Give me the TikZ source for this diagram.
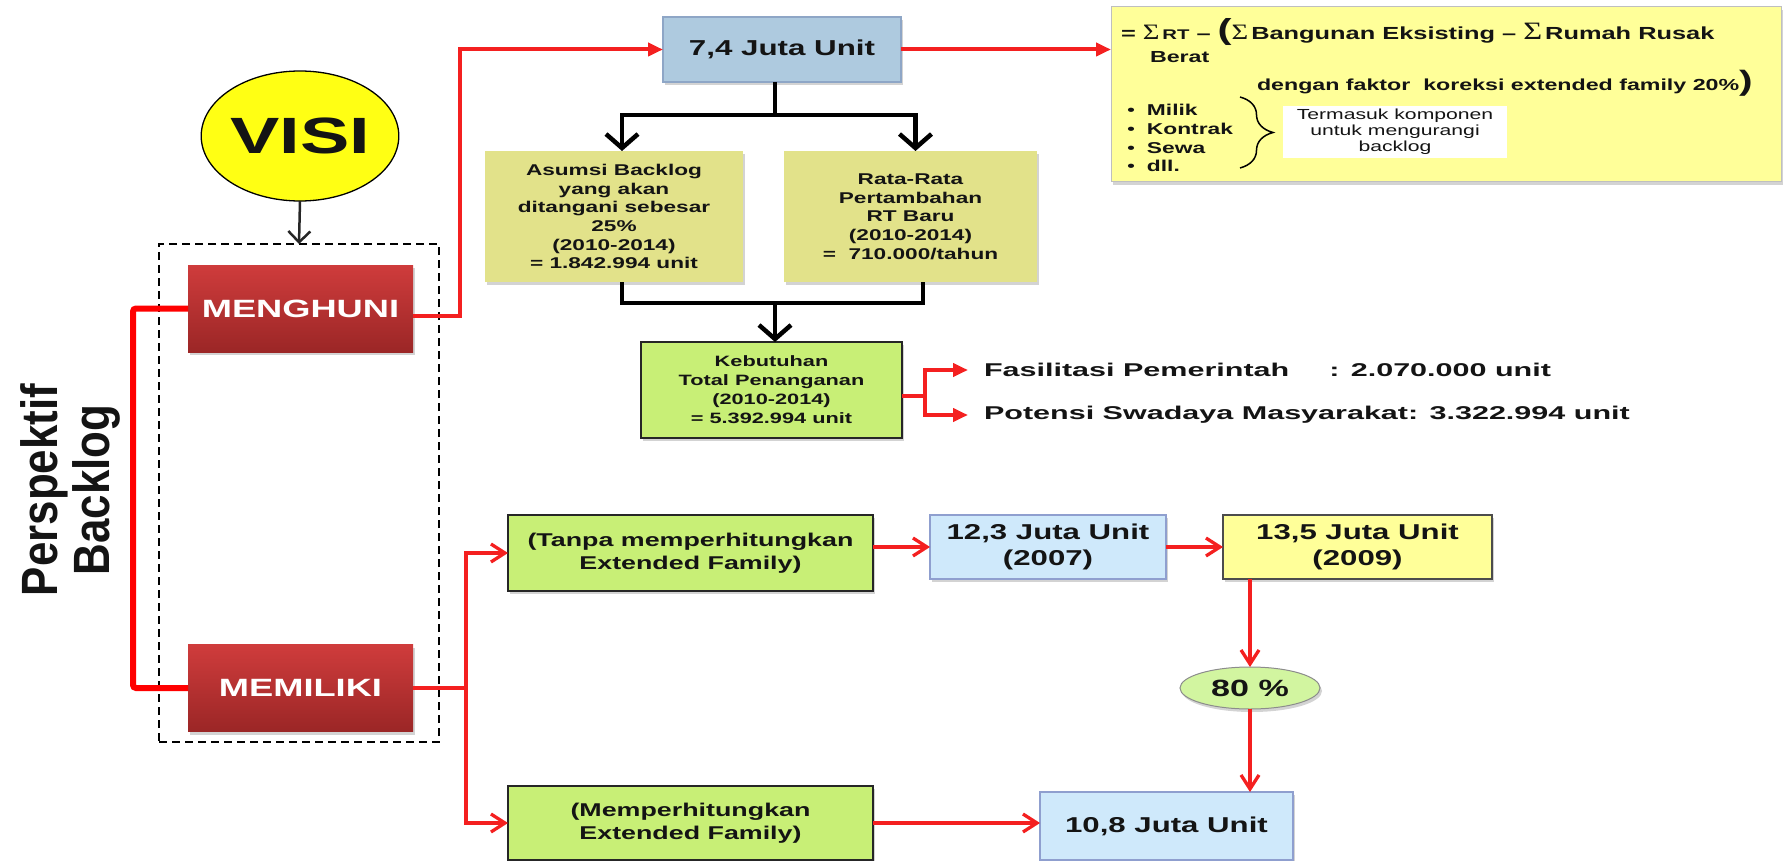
\documentclass[tikz,border=0pt]{standalone}
\usepackage{fontspec}
\setmainfont{Liberation Sans}
\newfontfamily\wf{Liberation Sans}[FakeStretch=1.45]
\newfontfamily\xwf{Liberation Sans}[FakeStretch=1.65]
\newfontfamily\nf{Liberation Sans}[FakeStretch=0.86]
\newfontfamily\sgf{Liberation Serif}[FakeStretch=1.3]
\usetikzlibrary{arrows.meta,shapes.geometric,shadows,calc,decorations.pathreplacing}

\newcommand{\setfs}[2]{\fontsize{#1}{#2}\selectfont}

\definecolor{redtop}{HTML}{CF3C3C}
\definecolor{redbot}{HTML}{9B2626}
\definecolor{khaki}{HTML}{E2E28A}
\definecolor{lime}{HTML}{C8EF76}
\definecolor{steel}{HTML}{AECADF}
\definecolor{steeldraw}{HTML}{8EA6C6}
\definecolor{skyfill}{HTML}{CFE9FB}
\definecolor{skydraw}{HTML}{8F9FCF}
\definecolor{paleyel}{HTML}{FFFF99}
\definecolor{mint}{HTML}{D2F5A0}
\definecolor{visiyel}{HTML}{FFFF14}
\definecolor{linered}{HTML}{F42020}
\definecolor{ink}{HTML}{141414}

\begin{document}
\begin{tikzpicture}[x=1pt,y=-1pt,
  every node/.style={inner sep=0pt,outer sep=0pt,text=ink},
  sh/.style={drop shadow={shadow xshift=2pt,shadow yshift=-3pt,opacity=0.35}},
  rbox/.style={rectangle,top color=redtop,bottom color=redbot,text=white,
    minimum width=225pt,minimum height=87pt,font={\wf\bfseries\setfs{25}{30}},sh},
  frame/.style={rectangle,draw=black,line width=2.5pt,dash pattern=on 8pt off 5pt},
  khakibox/.style={rectangle,fill=khaki,minimum height=131pt,align=center,
    font={\wf\bfseries\setfs{15.6}{18.7}},sh},
  limebox/.style={rectangle,fill=lime,draw=black!85,line width=1.5pt,align=center,sh},
  steelbox/.style={rectangle,fill=steel,draw=steeldraw,line width=1.2pt,align=center,sh},
  skybox/.style={rectangle,fill=skyfill,draw=skydraw,line width=1.2pt,align=center,
    font={\wf\bfseries\setfs{21.5}{25.5}},sh},
  yelbox/.style={rectangle,fill=paleyel,draw=black!70,line width=1.2pt,align=center,
    font={\wf\bfseries\setfs{21.5}{26}},sh},
  blk/.style={draw=black,line width=4.5pt},
  blkarrow/.style={blk,-{Straight Barb[length=14pt,width=32pt]}},
  redthick/.style={draw=red,line width=6pt},
  redmed/.style={draw=linered,line width=4pt},
  redthin/.style={draw=linered,line width=3.3pt},
  redbarb/.style={redthin,-{Straight Barb[length=14pt,width=18pt]}},
  redtri/.style={redmed,-{Triangle[length=15pt,width=13pt]}},
  ftext/.style={font={\wf\bfseries\setfs{16}{20}}},
]
\useasboundingbox (0,0) rectangle (1785,861);

% ---------- left column ----------
\node[frame,minimum width=280pt,minimum height=498pt] (grp) at (299,493) {};
\node[ellipse,draw=black,line width=1.3pt,fill=visiyel,minimum width=197pt,
  minimum height=130pt,font={\wf\bfseries\setfs{51}{51}}] (visi) at (300,136) {VISI};
\node[rbox] (menghuni) at (300.5,308.5) {MENGHUNI};
\node[rbox] (memiliki) at (300.5,688) {MEMILIKI};
\node[rotate=90,align=center,font={\nf\bfseries\setfs{51}{52}}] (persp) at (70,490)
  {Perspektif\\Backlog};

% ---------- upper chain ----------
\node[steelbox,minimum width=238pt,minimum height=65pt,
  font={\wf\bfseries\setfs{21.6}{26}}] (j74) at (782,49.5) {7,4 Juta Unit};
\node[khakibox,minimum width=258pt] (asumsi) at (614,216.5)
  {Asumsi Backlog\\yang akan\\ditangani sebesar\\25\%\\(2010-2014)\\= 1.842.994 unit};
\node[khakibox,minimum width=253pt] (rata) at (910.5,216.5)
  {Rata-Rata\\Pertambahan\\RT Baru\\(2010-2014)\\=\ \ 710.000/tahun};
\node[limebox,minimum width=261pt,minimum height=96pt,
  font={\wf\bfseries\setfs{15}{19}}] (keb) at (771.5,390)
  {Kebutuhan\\Total Penanganan\\(2010-2014)\\= 5.392.994 unit};
\node[anchor=west,font={\xwf\bfseries\setfs{18.5}{22}}] (fasil) at (984,370)
  {Fasilitasi Pemerintah\hspace{40pt}: 2.070.000 unit};
\node[anchor=west,font={\xwf\bfseries\setfs{18.5}{22}}] (potensi) at (984,415)
  {Potensi Swadaya Masyarakat: 3.322.994 unit};

% ---------- formula panel ----------
\node[rectangle,fill=paleyel,draw=black!25,line width=1pt,minimum width=670pt,
  minimum height=175pt,sh] (formula) at (1446,94.5) {};
\node[anchor=base west,font={\wf\bfseries\setfs{17.5}{20}}] (f1) at (1121,40)
  {=\ {\sgf\mdseries\setfs{22}{22}Σ}\,{\setfs{14}{14}RT} – {\setfs{29}{29}(}{\sgf\mdseries\setfs{22}{22}Σ}\,Bangunan Eksisting – {\sgf\mdseries\setfs{25}{25}Σ}\,Rumah Rusak};
\node[ftext,anchor=base west] (f2) at (1150,63) {Berat};
\node[ftext,anchor=base west] (f3) at (1257,91)
  {dengan faktor\ \ koreksi extended family 20\%{\setfs{28}{28})}};
\node[anchor=west,align=left,font={\wf\bfseries\setfs{15.7}{18.8}}] (blist) at (1127,138)
  {{\mdseries •}\hspace{12pt}Milik\\{\mdseries •}\hspace{12pt}Kontrak\\{\mdseries •}\hspace{12pt}Sewa\\{\mdseries •}\hspace{12pt}dll.};
\draw[line width=1.5pt,decorate,decoration={brace,amplitude=33pt,aspect=0.5}]
  (1240,97) -- (1240,168);
\node[fill=white,minimum width=224pt,minimum height=52pt,align=center,
  font={\wf\setfs{14.6}{16}}] (termasuk) at (1395,132)
  {Termasuk komponen\\untuk mengurangi\\backlog};

% ---------- lower chain ----------
\node[limebox,minimum width=365pt,minimum height=76pt,
  font={\wf\bfseries\setfs{18.5}{23}}] (tanpa) at (690.5,553)
  {(Tanpa memperhitungkan\\Extended Family)};
\node[limebox,minimum width=365pt,minimum height=74pt,
  font={\wf\bfseries\setfs{18.5}{23}}] (memper) at (690.5,823)
  {(Memperhitungkan\\Extended Family)};
\node[skybox,minimum width=236pt,minimum height=64pt] (j123) at (1048,547)
  {12,3 Juta Unit\\(2007)};
\node[yelbox,minimum width=269pt,minimum height=64pt] (j135) at (1357.5,547)
  {13,5 Juta Unit\\(2009)};
\node[ellipse,fill=mint,draw=black!45,line width=1pt,minimum width=140pt,
  minimum height=42pt,font={\wf\bfseries\setfs{23.5}{26}},sh] (p80) at (1250,688) {80 \%};
\node[skybox,minimum width=253pt,minimum height=68pt] (j108) at (1166.5,826)
  {10,8 Juta Unit};

% ---------- connectors ----------
\draw[draw=black!85,line width=2.5pt,-{Straight Barb[length=11pt,width=22pt]}]
  (visi.south) -- (grp.north);

\coordinate (spine) at (133,500);
\draw[redthick,rounded corners=3pt] (menghuni.west) -| (spine) |- (memiliki.west);

\coordinate (riser) at (460,200);
\draw[redtri] ([yshift=-7pt]menghuni.east) -| (riser) |- (j74.west);
\draw[redtri] (j74.east) -- (j74.east -| formula.west);

\coordinate (split) at (775,115);
\draw[blk] (j74.south -| split) -- (split);
\draw[blkarrow] (split) -| ([xshift=8pt]asumsi.north);
\draw[blkarrow] (split) -| ([xshift=5pt]rata.north);
\coordinate (merge) at (775,303);
\draw[blk] ([xshift=8pt]asumsi.south) |- (merge);
\draw[blk] ([xshift=12.5pt]rata.south) |- (merge);
\draw[blkarrow] (merge) -- (merge |- keb.north);

\coordinate (kfork) at (925,396);
\draw[redmed] ([yshift=-6pt]keb.east) -- (kfork);
\draw[redtri] (kfork) |- ([xshift=-16pt]fasil.west);
\draw[redtri] (kfork) |- ([xshift=-16pt]potensi.west);

\coordinate (mfork) at (466,688);
\draw[redthin] (memiliki.east) -- (mfork);
\draw[redbarb] (mfork) |- (tanpa.west);
\draw[redbarb] (mfork) |- (memper.west);

\draw[redbarb] (tanpa.east |- j123.west) -- (j123.west);
\draw[redbarb] (j123.east) -- (j135.west);
\draw[redbarb] (p80.north |- j135.south) -- (p80.north);
\draw[redbarb] (p80.south) -- (p80.south |- j108.north);
\draw[redbarb] (memper.east) -- (memper.east -| j108.west);
\end{tikzpicture}
\end{document}
